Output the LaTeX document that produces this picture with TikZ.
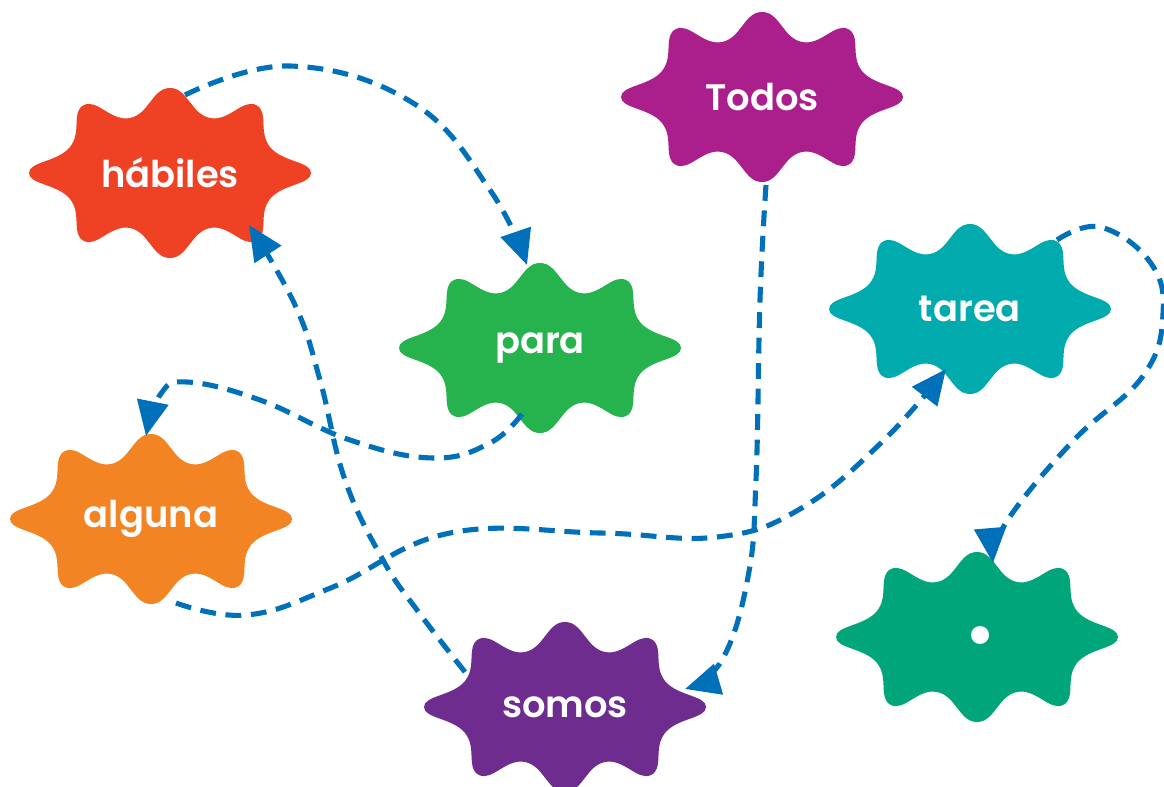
\documentclass[tikz,border=0pt]{standalone}
\usepackage{fontspec}
\setmainfont{Poppins}[BoldFont={Poppins SemiBold}]
\usetikzlibrary{arrows.meta,calc}

\definecolor{linkblue}{RGB}{0,112,186}
\definecolor{habilesred}{RGB}{239,65,36}
\definecolor{paragreen}{RGB}{38,178,77}
\definecolor{todosmagenta}{RGB}{171,31,141}
\definecolor{tareateal}{RGB}{0,170,173}
\definecolor{algunaorange}{RGB}{243,132,35}
\definecolor{somospurple}{RGB}{109,44,142}
\definecolor{puntogreen}{RGB}{0,166,122}

\tikzset{
  blob/.pic={
    \fill[pic actions] plot[smooth cycle,tension=0.8] coordinates {(0,85) (40,55) (86,68) (100,26) (141,0) (100,-26) (86,-68) (40,-55) (0,-85) (-40,-55) (-86,-68) (-100,-26) (-141,0) (-100,26) (-86,68) (-40,55)};
  },
  word/.style={text=white,font=\fontsize{21}{25}\selectfont\bfseries},
  link/.style={linkblue,line width=2.9pt,dash pattern=on 9pt off 5.5pt,-{Triangle[length=0.7cm,width=0.62cm]}}
}

\begin{document}
\begin{tikzpicture}[x=0.02cm,y=0.02cm]
  \useasboundingbox (0,0) rectangle (1164,-787);

  \pic[fill=habilesred] at (170,-173) {blob};
  \pic[fill=paragreen] at (540,-348) {blob};
  \pic[fill=todosmagenta] at (762,-97) {blob};
  \pic[fill=tareateal] at (970,-309) {blob};
  \pic[fill=algunaorange] at (151,-519) {blob};
  \pic[fill=somospurple] at (565,-707) {blob};
  \pic[fill=puntogreen] at (977,-637) {blob};

  \node[word] (habiles) at (170,-173) {hábiles};
  \node[word] (para) at (540,-348) {para};
  \node[word] (todos) at (762,-97) {Todos};
  \node[word] (tarea) at (970,-309) {tarea};
  \node[word] (alguna) at (151,-519) {alguna};
  \node[word] (somos) at (565,-707) {somos};
  \node[circle,fill=white,inner sep=0pt,minimum size=0.36cm] (punto) at (980,-635) {};

  \draw[link] plot[smooth,tension=0.7] coordinates {($(habiles)+(15,78)$) (290,-66) (413,-103) (490,-190) ($(para)+(-13,83)$)};
  \draw[link] plot[smooth,tension=0.7] coordinates {($(para)+(-18,-66)$) (490,-443) (433,-458) (350,-440) (260,-400) (187,-382) (160,-395) ($(alguna)+(-5,83)$)};
  \draw[link] plot[smooth,tension=0.7] coordinates {($(alguna)+(25,-84)$) (247,-615) (333,-587) (450,-533) (600,-533) (717,-537) (800,-509) (883,-441) ($(tarea)+(-24,-60)$)};
  \draw[link] plot[smooth,tension=0.7] coordinates {($(somos)+(-100,35)$) (417,-610) (383,-560) (345,-480) (320,-380) (295,-305) ($(habiles)+(79,-52)$)};
  \draw[link] plot[smooth,tension=0.7] coordinates {($(todos)+(4,-88)$) (760,-300) (756,-480) (748,-577) (722,-660) ($(somos)+(120,18)$)};
  \draw[link] plot[smooth,tension=0.7] coordinates {($(tarea)+(87,69)$) (1100,-227) (1150,-262) (1163,-314) (1143,-376) (1073,-441) (1007,-521) ($(punto)+(13,72)$)};
\end{tikzpicture}
\end{document}
